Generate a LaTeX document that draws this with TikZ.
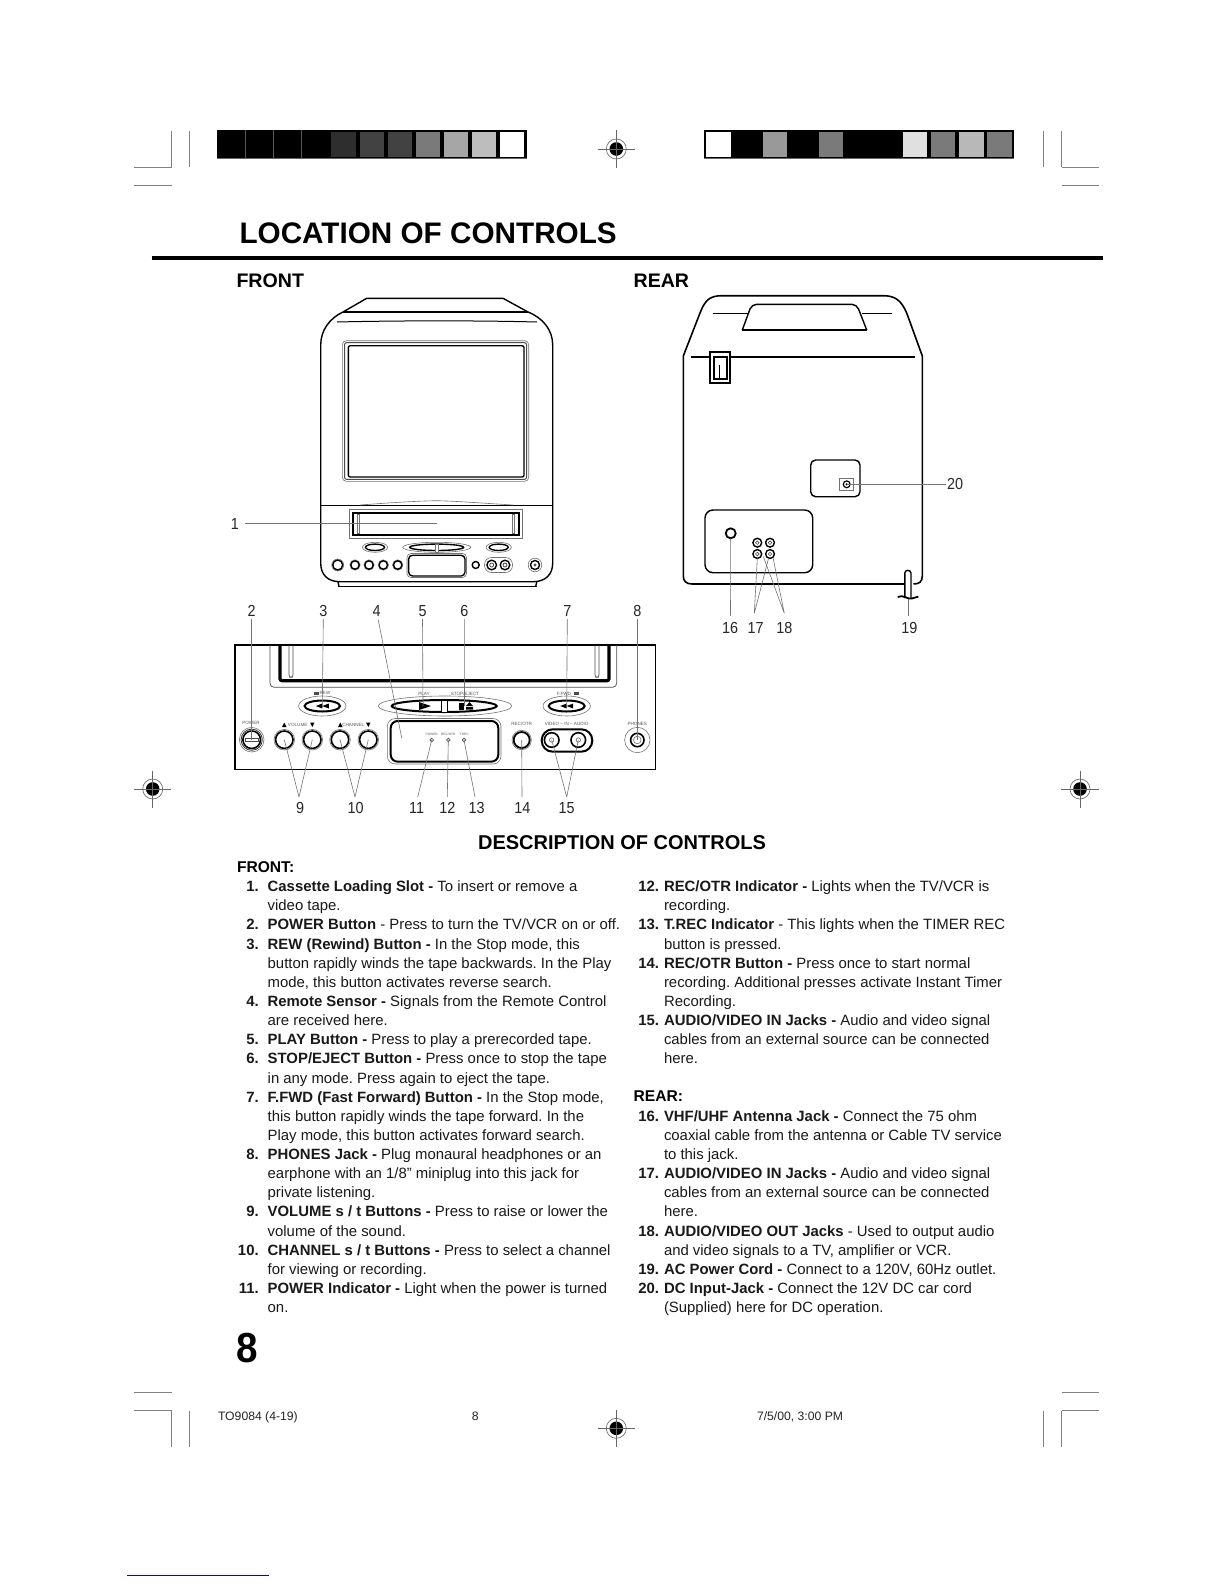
\documentclass[tikz,border=0pt]{standalone}
\usepackage{fontspec}
\setmainfont{Liberation Sans}
\newfontfamily\callfam[FakeStretch=0.9]{Liberation Sans}
\newfontfamily\pagefam[FakeStretch=0.92]{Liberation Sans}
\usetikzlibrary{shapes.geometric,calc}
\frenchspacing
\newcommand\fsz[1]{\fontsize{#1}{#1}\selectfont}
\newcommand\bodyf{\fsz{7.45}}
\tikzset{
  base/.style={inner sep=0pt,outer sep=0pt},
  ltxt/.style={base,anchor=base west,font=\bodyf,text=black!90},
  num/.style={base,anchor=base east,font=\bodyf\bfseries,text=black!90},
  head/.style={base,anchor=base west,font=\fsz{7.8}\bfseries},
  call/.style={base,font=\callfam\fsz{8},text=black!85},
  tiny/.style={base,font=\fsz{2.3},text=black!65},
  tinier/.style={base,font=\fsz{1.6},text=black!65},
  foot/.style={base,anchor=base west,font=\fsz{6.1},text=black!85},
  lead/.style={draw=black!55,line width=0.3pt},
  crop/.style={draw=black!50,line width=0.35pt},
  ol/.style={draw=black,line width=0.7pt},
  thin/.style={draw=black!55,line width=0.3pt},
  hv/.style={draw=black,line width=1pt},
}
\newcommand\Ln[3]{\node[ltxt] (#1) at (267.7,{891.7+19.13*#2}) {#3};}
\newcommand\Lnn[3]{\node[num] (#1) at (258.7,{891.7+19.13*#2}) {#3};}
\newcommand\Rn[3]{\node[ltxt] (#1) at (664,{891.7+19.13*#2}) {#3};}
\newcommand\Rnn[3]{\node[num] (#1) at (659,{891.7+19.13*#2}) {#3};}
\newcommand\reg[2]{%
  \fill[black] (#1,#2) circle (6.8);
  \draw[black!55,line width=0.35pt] (#1,#2) circle (10);
  \draw[black!60,line width=0.35pt] (#1-18.7,#2) -- (#1+18.7,#2) (#1,#2-18.5) -- (#1,#2+18.5);
}
\newcommand\cell[3]{\fill[#3] ({#1+2+28.1*#2},132) rectangle ({#1+26.3+28.1*#2},157.3);}
\begin{document}
\begin{tikzpicture}[x=0.5pt,y=-0.5pt]
\useasboundingbox[fill=white] (0,0) rectangle (1224,1584);

% colour bars
\fill[black] (217,130) rectangle (527,158.5);
\foreach \i/\c in {4/black!82,5/black!74,6/black!74,7/black!52,8/black!35,9/black!26,10/white}{\cell{217}{\i}{\c}}
\foreach \i in {1,2,3}{\draw[black!65,line width=0.5pt] ({217+28.1*\i},130) -- ({217+28.1*\i},158);}
\fill[black] (704.3,130) rectangle (1014,158.5);
\foreach \i/\c in {0/white,2/black!40,4/black!52,7/black!12,8/black!52,9/black!28,10/black!52}{\cell{704.3}{\i}{\c}}
\draw[black!60,line width=0.5pt] (217,158.5) -- (527,158.5) (704.3,158.5) -- (1014,158.5);

% crop marks
\draw[crop] (134.3,167.3) -- (171.7,167.3) (171.7,131) -- (171.7,167.3) (189.3,131) -- (189.3,167.3) (134.3,185.3) -- (172,185.3);
\draw[crop] (1098.7,167.3) -- (1061.7,167.3) (1061.7,131) -- (1061.7,167.3) (1043.3,131) -- (1043.3,167.3) (1098.7,185.3) -- (1061.7,185.3);
\draw[crop] (134.3,1392.3) -- (171.7,1392.3) (134.3,1410.7) -- (171.7,1410.7) (171.7,1410.7) -- (171.7,1447.3) (189.3,1410.7) -- (189.3,1447.3);
\draw[crop] (1098.7,1392.3) -- (1061.7,1392.3) (1098.7,1410.7) -- (1061.7,1410.7) (1061.7,1410.7) -- (1061.7,1447.3) (1043.3,1410.7) -- (1043.3,1447.3);
\reg{616.3}{149}
\reg{616.3}{1428.3}
\reg{152.7}{789}
\reg{1080}{789}

% title
\node[base,anchor=base west,font=\fsz{14.85}\bfseries] (title) at (239.5,243) {LOCATION OF CONTROLS};
\draw[black,line width=2pt] (151.5,257.7) -- (1103,257.7);
\node[base,anchor=base west,font=\fsz{9.8}\bfseries] (hfront) at (236.5,287) {FRONT};
\node[base,anchor=base west,font=\fsz{9.8}\bfseries] (hrear) at (633.6,287) {REAR};

% ---------- front TV
\draw[ol] (338,586.7) -- (536.7,586.7);
\draw[ol] (338,582) -- (339,586.7) (536.7,582) -- (535.7,586.7);
\draw[ol] (343,312) .. controls (330,318) and (320.7,330) .. (320.7,345) -- (320.7,563)
   .. controls (320.7,575) and (328,581.7) .. (340,581.7) -- (533,581.7)
   .. controls (545,581.7) and (552.7,575) .. (552.7,563) -- (552.7,345)
   .. controls (552.7,330) and (543,318) .. (528,312);
\draw[ol] (343,312) -- (366.7,298.3) -- (503,298.3) -- (528,312);
\draw[black,line width=0.6pt] (343,312) -- (528,312);
\draw[black,line width=0.5pt] (337,322) .. controls (400,320.5) and (480,320.5) .. (537,322);
\draw[thin,rounded corners=2pt] (342.3,340.7) rectangle (528.7,481.3);
\draw[black!70,line width=0.5pt,rounded corners=1pt] (344.5,342.7) rectangle (526.5,479.3);
\draw[ol,rounded corners=1pt] (348.3,345.7) rectangle (524,477);
\draw[black,line width=0.5pt] (320.7,505) -- (552.7,505);
\draw[thin] (360,505) .. controls (400,502) and (420,501) .. (436,500.7) .. controls (455,501) and (480,503) .. (513,505);
\draw[thin] (349.3,509.3) rectangle (522.7,538.3);
\draw[hv] (352.7,512.7) rectangle (519.3,535.3);
\draw[thin] (357,514.5) rectangle (359.5,533) (512,514.5) rectangle (514.5,533);
% transport buttons
\draw[thin] (375,547.3) ellipse (12.7 and 5);
\draw[ol] (375,547.3) ellipse (9.5 and 3.2);
\draw[thin] (498.7,547.3) ellipse (12.7 and 5);
\draw[ol] (498.7,547.3) ellipse (9.5 and 3.2);
\draw[thin] (436.7,547.3) ellipse (34 and 5);
\draw[ol] (436.7,547.3) ellipse (27 and 3.2);
\draw[thin,fill=white] (434.8,544) rectangle (438.2,552);
% bottom row
\draw[thin] (337.7,565) circle (6);
\draw[ol] (337.7,565) circle (5);
\foreach \x in {355,369,383.3,397.7}{\draw[thin] (\x,565) circle (5.2); \draw[ol] (\x,565) circle (4.2);}
\draw[thin,rounded corners=2pt] (407,553.5) rectangle (466.5,577.5);
\draw[ol,rounded corners=2pt] (408.6,555.2) rectangle (465,576);
\draw[ol] (475.7,565) circle (3.5);
\draw[thin,rounded corners=3.5pt] (484.5,557.5) rectangle (512.5,572.5);
\foreach \x in {491.7,505}{\draw[ol] (\x,565) circle (4.8); \draw[black!70,line width=0.4pt] (\x,565) circle (2);}
\draw[thin] (535,565) circle (6.8);
\draw[ol] (535,565) circle (4.5);
\fill[black!70] (535,565) circle (1.6);

\node[call] (n1) at (235,523.5) {1};
\coordinate (t1) at (436.7,523.5);
\draw[lead] (n1) ++(10,0) -- (t1);

% ---------- VCR panel
\draw[draw=black,line width=0.65pt] (235,645) rectangle (655.7,769.3);
\draw[black!70,line width=0.35pt,rounded corners=2pt] (270,645) -- (270,687.3) -- (616.7,687.3) -- (616.7,645);
\draw[black,line width=1.6pt,rounded corners=1pt] (280,645) -- (280,680.7) -- (609,680.7) -- (609,645);
\draw[black!70,line width=0.35pt,rounded corners=1.2pt] (289,645) -- (289,677.3) -- (293,677.3) -- (293,645);
\draw[black!70,line width=0.35pt,rounded corners=1.2pt] (595,645) -- (595,677.3) -- (599,677.3) -- (599,645);

\newcommand\rewarrows[2]{\fill[black] (#1-6.5,#2) -- (#1,#2-2.5) -- (#1,#2+2.5) -- cycle (#1,#2) -- (#1+6.5,#2-2.5) -- (#1+6.5,#2+2.5) -- cycle;}
\coordinate (rew) at (322.3,706);
\draw[thin] (rew) ellipse (23.7 and 10);
\draw[hv] (rew) ellipse (17.7 and 5.5);
\rewarrows{322.3}{706}
\coordinate (ffw) at (566.7,706);
\draw[thin] (ffw) ellipse (23.7 and 10);
\draw[hv] (ffw) ellipse (18 and 5.5);
\rewarrows{566.7}{706}
\draw[thin] (445,706) ellipse (66.7 and 10);
\draw[hv] (444.2,706) ellipse (52.5 and 6);
\draw[black,line width=0.5pt,fill=white] (441,700) rectangle (447.7,712.7);
\fill[black] (419,702) -- (431,706) -- (419,710) -- cycle;
\fill[black] (458.5,702.5) rectangle (464,709.5);
\fill[black] (466,706) -- (469.5,702) -- (473,706) -- cycle (466,707.2) rectangle (473,709.5);

\node[tiny] (lrew) at (325,693.3) {REW};
\fill[black!70] (314,691.8) rectangle (319,694.6);
\node[tiny] (lplay) at (424,693.5) {PLAY};
\node[tiny] (lstop) at (465,693.5) {STOP/EJECT};
\node[tiny] (lffw) at (564,693.5) {F.FWD};
\fill[black!70] (574,691.8) rectangle (579,694.6);
\node[tiny] (lpow) at (251,723.3) {POWER};
\node[tiny] (lvol) at (297.7,725.3) {VOLUME};
\node[tiny] (lch) at (353.3,725.3) {CHANNEL};
\fill[black] (282,727) -- (284.3,722.5) -- (286.6,727) -- cycle (310,722.5) -- (314.6,722.5) -- (312.3,727) -- cycle
  (338,727) -- (340.3,722.5) -- (342.6,727) -- cycle (366,722.5) -- (370.6,722.5) -- (368.3,727) -- cycle;
\node[tiny] (lrec) at (521.7,724) {REC/OTR};
\node[tiny] (lvid) at (566.7,724) {VIDEO -- IN -- AUDIO};
\node[tiny] (lpho) at (637.3,724) {PHONES};
\node[tinier] (lind1) at (431.7,734) {POWER};
\node[tinier] (lind2) at (448.3,734) {REC/OTR};
\node[tinier] (lind3) at (464,734) {T.REC};

% buttons
\coordinate (pow) at (251.7,739.7);
\draw[thin] (pow) circle (12.3);
\draw[black!80,line width=0.4pt] (pow) circle (10.6);
\draw[black,line width=0.8pt] (pow) circle (8.8);
\draw[black!70,line width=0.35pt] (245.7,738.2) rectangle (258.2,741.2);
\coordinate (v1) at (284.3,739.7); \coordinate (v2) at (312.3,739.7);
\coordinate (c1) at (340,739.7); \coordinate (c2) at (368.3,739.7);
\foreach \p in {v1,v2,c1,c2}{\draw[thin] (\p) circle (10.3); \draw[black,line width=0.8pt] (\p) circle (8.7);}
\draw[thin,rounded corners=4pt] (387.3,718.5) rectangle (501,764);
\draw[hv,rounded corners=3.5pt] (390.7,721) rectangle (498.3,761.7);
\coordinate (d4) at (401.7,738);
\coordinate (led1) at (431.7,740); \coordinate (led2) at (448.3,740); \coordinate (led3) at (464,740);
\foreach \p in {led1,led2,led3}{\draw[black!70,line width=0.35pt] (\p) circle (1.8);}
\coordinate (recb) at (521.7,740);
\draw[thin] (recb) circle (9.7);
\draw[black,line width=0.9pt] (recb) circle (8);
\draw[hv,rounded corners=5.5pt] (541.7,729.3) rectangle (592.3,751.7);
\coordinate (a1) at (551.7,740); \coordinate (a2) at (578.3,740);
\foreach \p in {a1,a2}{\draw[black,line width=0.8pt] (\p) circle (7.3); \draw[black!60,line width=0.3pt] (\p) circle (2.2);}
\coordinate (pho) at (637.3,740);
\draw[thin] (pho) circle (12.7);
\draw[black,line width=0.8pt] (pho) circle (6.7);
\draw[thin] (pho) circle (3.8);

% callouts front panel
\coordinate (playc) at (423,706); \coordinate (stopc) at (464.5,706);
\node[call] (n2) at (251.7,611) {2};
\node[call] (n3) at (323.3,611) {3};
\node[call] (n4) at (376.7,611) {4};
\node[call] (n5) at (422.5,611) {5};
\node[call] (n6) at (464.3,611) {6};
\node[call] (n7) at (567.3,611) {7};
\node[call] (n8) at (637.3,611) {8};
\coordinate (n4b) at (378.3,620);
\draw[lead] (n2.south) ++(0,2.5) -- (pow);
\draw[lead] (n3.south) ++(0,2.5) -- (rew);
\draw[lead] (n4b) -- (d4);
\draw[lead] (n5.south) ++(0,2.5) -- (playc);
\draw[lead] (n6.south) ++(0,2.5) -- (stopc);
\draw[lead] (n7.south) ++(0,2.5) -- (ffw);
\draw[lead] (n8.south) ++(0,2.5) -- (pho);
\node[call] (n9) at (300,808) {9};
\node[call] (n10) at (355.7,808) {10};
\node[call] (n11) at (416.7,808) {11};
\node[call] (n12) at (447.3,808) {12};
\node[call] (n13) at (476.7,808) {13};
\node[call] (n14) at (522.3,808) {14};
\node[call] (n15) at (566.7,808) {15};
\coordinate (a9) at (299,797); \coordinate (a10) at (355,797); \coordinate (a11) at (417.7,797);
\coordinate (a12) at (447.3,797); \coordinate (a13) at (475,797); \coordinate (a14) at (522,797); \coordinate (a15) at (566.7,797);
\draw[lead] (a9) -- (v1) (a9) -- (v2) (a10) -- (c1) (a10) -- (c2) (a11) -- (led1) (a12) -- (led2) (a13) -- (led3) (a14) -- (recb) (a15) -- (a1) (a15) -- (a2);

% ---------- rear TV
\draw[ol,line width=0.8pt] (683.3,356) -- (700,313) .. controls (705,300) and (710,295.7) .. (722,295.7) -- (883,295.7)
   .. controls (895,295.7) and (901,300) .. (906.7,313) -- (922.3,356) -- (922.3,576)
   .. controls (922.3,582) and (919,584) .. (913.5,584);
\draw[ol,line width=0.8pt] (904.5,584) -- (692,584) .. controls (686,584) and (683.3,581) .. (683.3,576) -- (683.3,356);
\draw[ol] (742.3,330) -- (866.7,330);
\draw[ol,rounded corners=2.5pt] (742.3,330) -- (751.7,304.3) -- (856.7,304.3) -- (866.7,330);
\draw[black,line width=0.45pt] (712.7,313.3) -- (747.7,313.3) (861.7,313.3) -- (891.7,313.3);
\draw[black,line width=0.9pt] (691,357.3) -- (915,357.3);
\draw[draw=black,line width=0.9pt,fill=white] (710,351.7) rectangle (730.3,382.7);
\draw[draw=black,line width=0.9pt] (714,357.3) rectangle (727,379.3);
\draw[black,line width=0.5pt] (719.3,365) -- (719.3,379.3);
\draw[ol,rounded corners=2.5pt] (810.7,460) rectangle (860,496.7);
\draw[thin] (839.3,478.3) rectangle (853.7,490.7);
\coordinate (dc) at (846.7,484.3);
\draw[black,line width=0.6pt] (dc) circle (3.4);
\fill[black] (dc) circle (1.2);
\draw[ol,rounded corners=4pt] (705,510) rectangle (812.7,572.7);
\coordinate (ant) at (730.7,533.3);
\draw[black,line width=0.9pt] (ant) circle (5);
\coordinate (j1) at (757.3,542.7); \coordinate (j2) at (770,542.7); \coordinate (j3) at (757.3,554); \coordinate (j4) at (770,554);
\foreach \p in {j1,j2,j3,j4}{\draw[black,line width=0.7pt] (\p) circle (4.4); \draw[black!70,line width=0.3pt] (\p) circle (1.8);}
\draw[ol] (904.8,598) -- (904.8,573) .. controls (905,569.5) and (910.5,569.5) .. (911,573) -- (911,598);
\draw[black,line width=0.9pt] (897.7,597) .. controls (903,594) and (908,600) .. (912,598.5) .. controls (914,598) and (916,597) .. (918.3,596.7);
\node[call] (n20) at (955,484.3) {20};
\node[call] (n16) at (730,627.7) {16};
\node[call] (n17) at (755.7,627.7) {17};
\node[call] (n18) at (784.3,627.7) {18};
\node[call] (n19) at (909.3,627.7) {19};
\coordinate (a16) at (730.5,615.5); \coordinate (a17) at (754.3,613.3); \coordinate (a18) at (784.3,613.3); \coordinate (a19) at (908.5,615.5);
\coordinate (c19) at (908.5,599);
\draw[lead] (dc) -- ($(n20.west)+(-1,0)$);
\draw[lead] (a16) -- ($(ant)+(0,5)$);
\draw[lead] (a17) -- ($(j3)+(0,4.4)$) (a17) -- ($(j4)+(-1.5,4.4)$);
\draw[lead] (a18) -- ($(j3)+(6,2.5)$) (a18) -- ($(j4)+(3,3.5)$);
\draw[lead] (a19) -- (c19);

% ---------- description
\node[base,anchor=base,font=\fsz{10}\bfseries] (desc) at (622,849) {DESCRIPTION OF CONTROLS};
\node[head] (hF) at (237,872) {FRONT:};
\Lnn{a}{0}{1.}\Ln{a1t}{0}{\textbf{Cassette Loading Slot -} To insert or remove a}\Ln{a2t}{1}{video tape.}
\Lnn{b}{2}{2.}\Ln{b1t}{2}{\textbf{POWER Button} - Press to turn the TV/VCR on or off.}
\Lnn{cc}{3}{3.}\Ln{c1t}{3}{\textbf{REW (Rewind) Button -} In the Stop mode, this}\Ln{c2t}{4}{button rapidly winds the tape backwards. In the Play}\Ln{c3t}{5}{mode, this button activates reverse search.}
\Lnn{dd}{6}{4.}\Ln{d1t}{6}{\textbf{Remote Sensor -} Signals from the Remote Control}\Ln{d2t}{7}{are received here.}
\Lnn{e}{8}{5.}\Ln{e1t}{8}{\textbf{PLAY Button -} Press to play a prerecorded tape.}
\Lnn{f}{9}{6.}\Ln{f1t}{9}{\textbf{STOP/EJECT Button -} Press once to stop the tape}\Ln{f2t}{10}{in any mode. Press again to eject the tape.}
\Lnn{g}{11}{7.}\Ln{g1t}{11}{\textbf{F.FWD (Fast Forward) Button -} In the Stop mode,}\Ln{g2t}{12}{this button rapidly winds the tape forward. In the}\Ln{g3t}{13}{Play mode, this button activates forward search.}
\Lnn{h}{14}{8.}\Ln{h1t}{14}{\textbf{PHONES Jack -} Plug monaural headphones or an}\Ln{h2t}{15}{earphone with an 1/8" miniplug into this jack for}\Ln{h3t}{16}{private listening.}
\Lnn{i}{17}{9.}\Ln{i1t}{17}{\textbf{VOLUME s / t Buttons -} Press to raise or lower the}\Ln{i2t}{18}{volume of the sound.}
\Lnn{j}{19}{10.}\Ln{j1t}{19}{\textbf{CHANNEL s / t Buttons -} Press to select a channel}\Ln{j2t}{20}{for viewing or recording.}
\Lnn{k}{21}{11.}\Ln{k1t}{21}{\textbf{POWER Indicator -} Light when the power is turned}\Ln{k2t}{22}{on.}
\Rnn{l}{0}{12.}\Rn{l1t}{0}{\textbf{REC/OTR Indicator -} Lights when the TV/VCR is}\Rn{l2t}{1}{recording.}
\Rnn{m}{2}{13.}\Rn{m1t}{2}{\textbf{T.REC Indicator} - This lights when the TIMER REC}\Rn{m2t}{3}{button is pressed.}
\Rnn{nn}{4}{14.}\Rn{n1t}{4}{\textbf{REC/OTR Button -} Press once to start normal}\Rn{n2t}{5}{recording. Additional presses activate Instant Timer}\Rn{n3t}{6}{Recording.}
\Rnn{o}{7}{15.}\Rn{o1t}{7}{\textbf{AUDIO/VIDEO IN Jacks -} Audio and video signal}\Rn{o2t}{8}{cables from an external source can be connected}\Rn{o3t}{9}{here.}
\node[head] (hR) at (633.6,{891.7+19.13*11-0.5}) {REAR:};
\Rnn{p}{12}{16.}\Rn{p1t}{12}{\textbf{VHF/UHF Antenna Jack -} Connect the 75 ohm}\Rn{p2t}{13}{coaxial cable from the antenna or Cable TV service}\Rn{p3t}{14}{to this jack.}
\Rnn{q}{15}{17.}\Rn{q1t}{15}{\textbf{AUDIO/VIDEO IN Jacks -} Audio and video signal}\Rn{q2t}{16}{cables from an external source can be connected}\Rn{q3t}{17}{here.}
\Rnn{r}{18}{18.}\Rn{r1t}{18}{\textbf{AUDIO/VIDEO OUT Jacks} - Used to output audio}\Rn{r2t}{19}{and video signals to a TV, amplifier or VCR.}
\Rnn{s}{20}{19.}\Rn{s1t}{20}{\textbf{AC Power Cord -} Connect to a 120V, 60Hz outlet.}
\Rnn{t}{21}{20.}\Rn{t1t}{21}{\textbf{DC Input-Jack -} Connect the 12V DC car cord}\Rn{t2t}{22}{(Supplied) here for DC operation.}

% page number and footer
\node[base,anchor=base west,font=\pagefam\fsz{21}\bfseries] (pg) at (236.5,1362.7) {8};
\node[foot] (f1) at (218,1420) {TO9084 (4-19)};
\node[foot,anchor=base] (f2) at (475.3,1420) {8};
\node[foot] (f3) at (757,1420) {7/5/00, 3:00 PM};
\draw[blue!90!black,line width=0.5pt] (127,1575) -- (269,1575);
\end{tikzpicture}
\end{document}
